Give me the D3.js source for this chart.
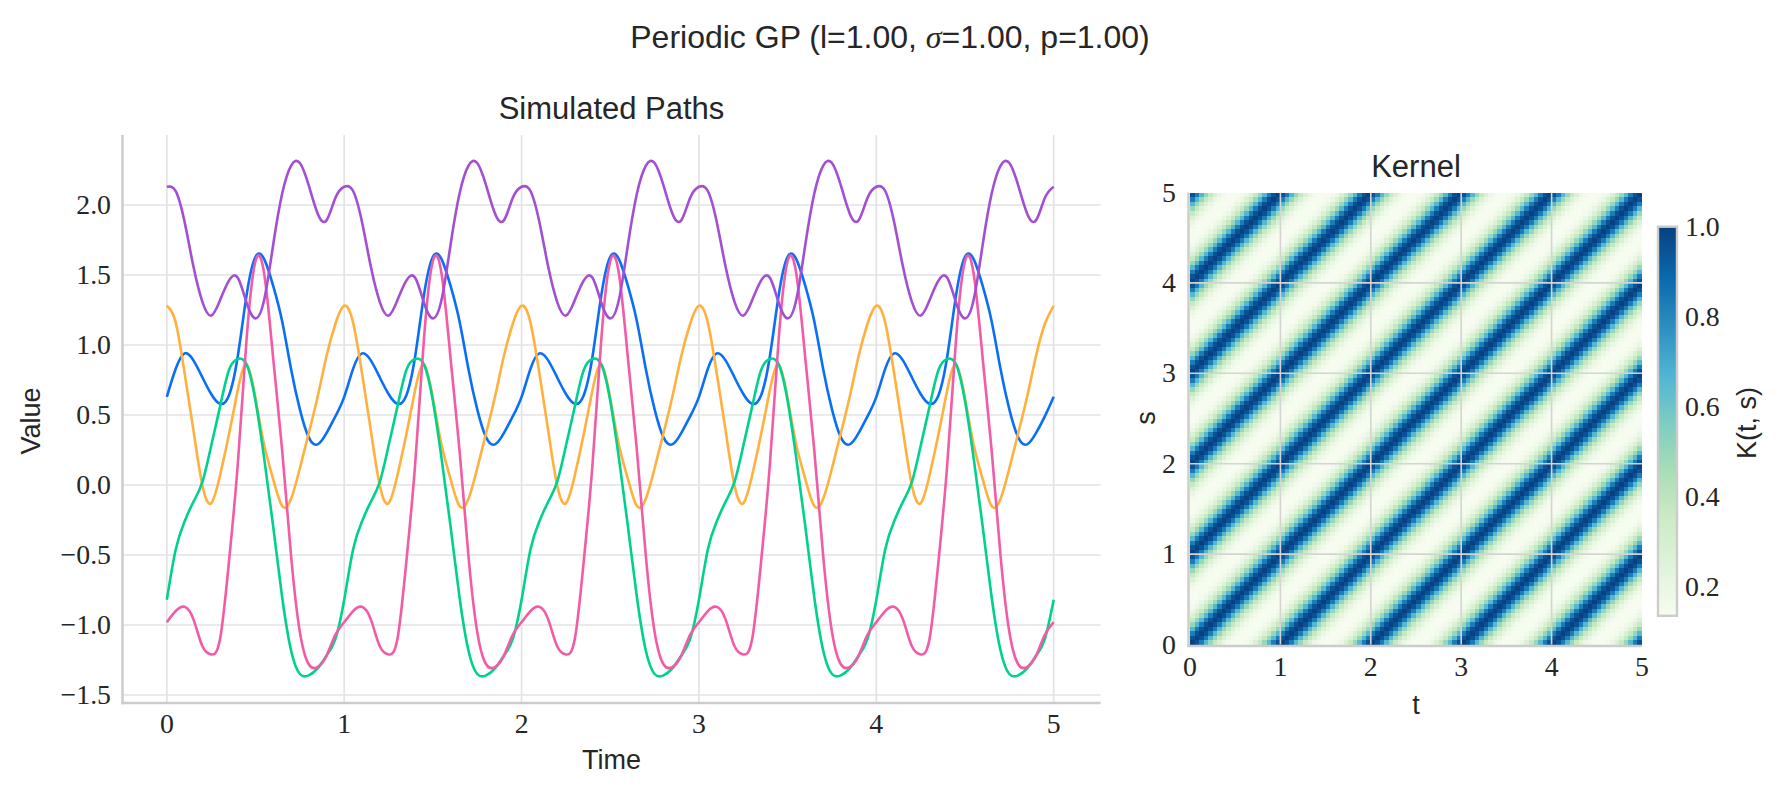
<!DOCTYPE html>
<html>
<head>
<meta charset="utf-8">
<style>
  body { margin: 0; background: #fff; }
  svg { display: block; }
  .sans { font-family: "Liberation Sans", Arial, sans-serif; fill: #262626; }
  .serif { font-family: "Liberation Serif", "Times New Roman", serif; fill: #262626; }
</style>
</head>
<body>
<svg width="1780" height="793"></svg>
<script src="https://d3js.org/d3.v7.min.js"></script>
<script>

// sample positions inside one period (period = 1)
var phase = [0, .05, .10, .15, .20, .25, .30, .35, .40, .45, .50, .55, .60, .65, .70, .75, .80, .85, .90, .95];

// one period of each simulated path
var bluePath   = [0.63, 0.83, 0.94, 0.89, 0.77, 0.65, 0.58, 0.64, 0.92, 1.36, 1.63, 1.61, 1.42, 1.17, 0.83, 0.54, 0.34, 0.29, 0.37, 0.49];
var orangePath = [1.28, 1.16, 0.80, 0.39, 0.00, -0.13, 0.07, 0.36, 0.68, 0.86, 0.62, 0.28, 0.04, -0.15, -0.10, 0.12, 0.37, 0.63, 0.92, 1.15];
var greenPath  = [-0.82, -0.46, -0.26, -0.12, 0.02, 0.28, 0.56, 0.82, 0.90, 0.86, 0.60, 0.18, -0.30, -0.80, -1.18, -1.35, -1.36, -1.31, -1.22, -1.10];
var pinkPath   = [-0.98, -0.90, -0.87, -0.96, -1.15, -1.21, -1.10, -0.55, 0.15, 1.05, 1.60, 1.50, 0.90, 0.25, -0.50, -1.05, -1.28, -1.30, -1.22, -1.07];
var purplePath = [2.13, 2.10, 1.88, 1.56, 1.31, 1.21, 1.32, 1.46, 1.48, 1.30, 1.19, 1.33, 1.72, 2.08, 2.28, 2.30, 2.14, 1.94, 1.89, 2.05];

var periods = [0, 1, 2, 3, 4];

// kernel value by lag |t - s| (steps of 0.05 over one period)
var kernelByLag = [1.00, 0.95, 0.83, 0.66, 0.50, 0.37, 0.27, 0.20, 0.16, 0.14, 0.135, 0.14, 0.16, 0.20, 0.27, 0.37, 0.50, 0.66, 0.83, 0.95];
var gridStep = 0.05, gridN = 100;

var xTicks = [0, 1, 2, 3, 4, 5];
var yTicks = [-1.5, -1.0, -0.5, 0.0, 0.5, 1.0, 1.5, 2.0];
var kTicks = [0, 1, 2, 3, 4, 5];
var cbTicks = [0.2, 0.4, 0.6, 0.8, 1.0];

var series = [
  {name: "blue",   values: bluePath,   color: "#0a6ff7"},
  {name: "orange", values: orangePath, color: "#ffb03f"},
  {name: "green",  values: greenPath,  color: "#00d18c"},
  {name: "pink",   values: pinkPath,   color: "#f25ba6"},
  {name: "purple", values: purplePath, color: "#a24fd3"}
];

var gnbu = ["#f7fcf0", "#e0f3db", "#ccebc5", "#a8ddb5", "#7bccc4", "#4eb3d3", "#2b8cbe", "#0868ac", "#084081"];

var svg = d3.select("svg");
var fmtY = function(d) { return (d < 0 ? "\u2212" : "") + Math.abs(d).toFixed(1); };

// ---------- left panel: simulated paths ----------
var x = d3.scaleLinear().domain([-0.25, 5.265]).range([122.5, 1100.7]);
var y = d3.scaleLinear().domain([-1.557, 2.5]).range([703, 135]);

var left = svg.append("g");

left.selectAll(".vgrid").data(xTicks).enter().append("line")
  .attr("x1", x).attr("x2", x).attr("y1", y.range()[1]).attr("y2", y.range()[0])
  .attr("stroke", "#e3e3e3").attr("stroke-width", 1.7);
left.selectAll(".hgrid").data(yTicks).enter().append("line")
  .attr("x1", x.range()[0]).attr("x2", x.range()[1]).attr("y1", y).attr("y2", y)
  .attr("stroke", "#e3e3e3").attr("stroke-width", 1.7);

var line = d3.line()
  .x(function(d) { return x(d.t); })
  .y(function(d) { return y(d.v); })
  .curve(d3.curveNatural);

series.forEach(function(s) {
  var pts = [];
  periods.forEach(function(p) {
    phase.forEach(function(f, i) { pts.push({t: p + f, v: s.values[i]}); });
  });
  pts.push({t: 5, v: s.values[0]});
  left.append("path").datum(pts)
    .attr("d", line)
    .attr("fill", "none")
    .attr("stroke", s.color)
    .attr("stroke-width", 2.6);
});

left.append("line").attr("x1", x.range()[0]).attr("x2", x.range()[0])
  .attr("y1", y.range()[1]).attr("y2", y.range()[0] + 1.2)
  .attr("stroke", "#cccccc").attr("stroke-width", 2.5);
left.append("line").attr("x1", x.range()[0] - 1.2).attr("x2", x.range()[1])
  .attr("y1", y.range()[0]).attr("y2", y.range()[0])
  .attr("stroke", "#cccccc").attr("stroke-width", 2.5);

left.selectAll(".yt").data(yTicks).enter().append("text")
  .attr("class", "serif").attr("x", 111).attr("y", y)
  .attr("dy", "0.33em").attr("text-anchor", "end")
  .style("font-size", "27.8px").text(fmtY);
left.selectAll(".xt").data(xTicks).enter().append("text")
  .attr("class", "serif").attr("x", x).attr("y", 733)
  .attr("text-anchor", "middle")
  .style("font-size", "27.8px").text(function(d) { return d; });

left.append("text").attr("class", "sans").attr("x", 611.5).attr("y", 769)
  .attr("text-anchor", "middle").style("font-size", "27px").text("Time");
left.append("text").attr("class", "sans")
  .attr("transform", "translate(40,421) rotate(-90)")
  .attr("text-anchor", "middle").style("font-size", "27px").text("Value");
left.append("text").attr("class", "sans").attr("x", 611.5).attr("y", 119)
  .attr("text-anchor", "middle").style("font-size", "31px").text("Simulated Paths");

// ---------- right panel: kernel heatmap ----------
var kx = d3.scaleLinear().domain([0, 5]).range([1190, 1642]);
var ky = d3.scaleLinear().domain([0, 5]).range([644.5, 192.5]);
var color = d3.scaleLinear()
  .domain(gnbu.map(function(c, i) { return d3.min(kernelByLag) + i * (1 - d3.min(kernelByLag)) / (gnbu.length - 1); }))
  .range(gnbu)
  .clamp(true);

var cells = [];
d3.range(gridN).forEach(function(i) {
  d3.range(gridN).forEach(function(j) {
    cells.push({i: i, j: j, v: kernelByLag[Math.abs(i - j) % kernelByLag.length]});
  });
});

var right = svg.append("g");
right.append("g").selectAll("rect").data(cells).enter().append("rect")
  .attr("x", function(d) { return kx(d.i * gridStep); })
  .attr("y", function(d) { return ky((d.j + 1) * gridStep); })
  .attr("width", kx(gridStep) - kx(0) + 0.4)
  .attr("height", ky(0) - ky(gridStep) + 0.4)
  .attr("fill", function(d) { return color(d.v); })
  .attr("shape-rendering", "crispEdges");

right.selectAll(".kvg").data(kTicks.slice(1, 5)).enter().append("line")
  .attr("x1", kx).attr("x2", kx).attr("y1", ky(5)).attr("y2", ky(0))
  .attr("stroke", "#d4d4d4").attr("stroke-width", 1.6);
right.selectAll(".khg").data(kTicks.slice(1, 5)).enter().append("line")
  .attr("x1", kx(0)).attr("x2", kx(5)).attr("y1", ky).attr("y2", ky)
  .attr("stroke", "#d4d4d4").attr("stroke-width", 1.6);

right.append("line").attr("x1", kx(0) - 1.5).attr("x2", kx(0) - 1.5)
  .attr("y1", ky(5)).attr("y2", ky(0) + 2.5)
  .attr("stroke", "#cccccc").attr("stroke-width", 2.5);
right.append("line").attr("x1", kx(0) - 2.7).attr("x2", kx(5))
  .attr("y1", ky(0) + 1.5).attr("y2", ky(0) + 1.5)
  .attr("stroke", "#cccccc").attr("stroke-width", 2.5);

right.selectAll(".kyt").data(kTicks).enter().append("text")
  .attr("class", "serif").attr("x", 1176).attr("y", ky)
  .attr("dy", "0.33em").attr("text-anchor", "end")
  .style("font-size", "27.8px").text(function(d) { return d; });
right.selectAll(".kxt").data(kTicks).enter().append("text")
  .attr("class", "serif").attr("x", kx).attr("y", 676)
  .attr("text-anchor", "middle")
  .style("font-size", "27.8px").text(function(d) { return d; });

right.append("text").attr("class", "sans").attr("x", 1416).attr("y", 714)
  .attr("text-anchor", "middle").style("font-size", "27px").text("t");
right.append("text").attr("class", "sans")
  .attr("transform", "translate(1155,418) rotate(-90)")
  .attr("text-anchor", "middle").style("font-size", "27px").text("s");
right.append("text").attr("class", "sans").attr("x", 1416).attr("y", 177)
  .attr("text-anchor", "middle").style("font-size", "31px").text("Kernel");

// ---------- colorbar ----------
var cy = d3.scaleLinear().domain([d3.min(kernelByLag), 1]).range([615.8, 226.7]);
var grad = svg.append("defs").append("linearGradient")
  .attr("id", "cbgrad").attr("x1", 0).attr("x2", 0).attr("y1", 1).attr("y2", 0);
grad.selectAll("stop").data(color.domain()).enter().append("stop")
  .attr("offset", function(d, i) { return i / (gnbu.length - 1); })
  .attr("stop-color", function(d) { return color(d); });

svg.append("rect")
  .attr("x", 1658).attr("y", cy(1)).attr("width", 19).attr("height", cy.range()[0] - cy(1))
  .attr("fill", "url(#cbgrad)")
  .attr("stroke", "#cccccc").attr("stroke-width", 2.4);

svg.selectAll(".cbt").data(cbTicks).enter().append("text")
  .attr("class", "serif").attr("x", 1685).attr("y", cy)
  .attr("dy", "0.33em")
  .style("font-size", "27.8px").text(function(d) { return d.toFixed(1); });

svg.append("text").attr("class", "sans")
  .attr("transform", "translate(1756,423) rotate(-90)")
  .attr("text-anchor", "middle").style("font-size", "27px").text("K(t, s)");

// ---------- suptitle ----------
var sup = svg.append("text").attr("class", "sans").attr("x", 890).attr("y", 48)
  .attr("text-anchor", "middle").style("font-size", "32px");
sup.append("tspan").text("Periodic GP (l=1.00, ");
sup.append("tspan").attr("class", "serif").style("font-style", "italic").text("\u03c3");
sup.append("tspan").text("=1.00, p=1.00)");

</script>
</body>
</html>
